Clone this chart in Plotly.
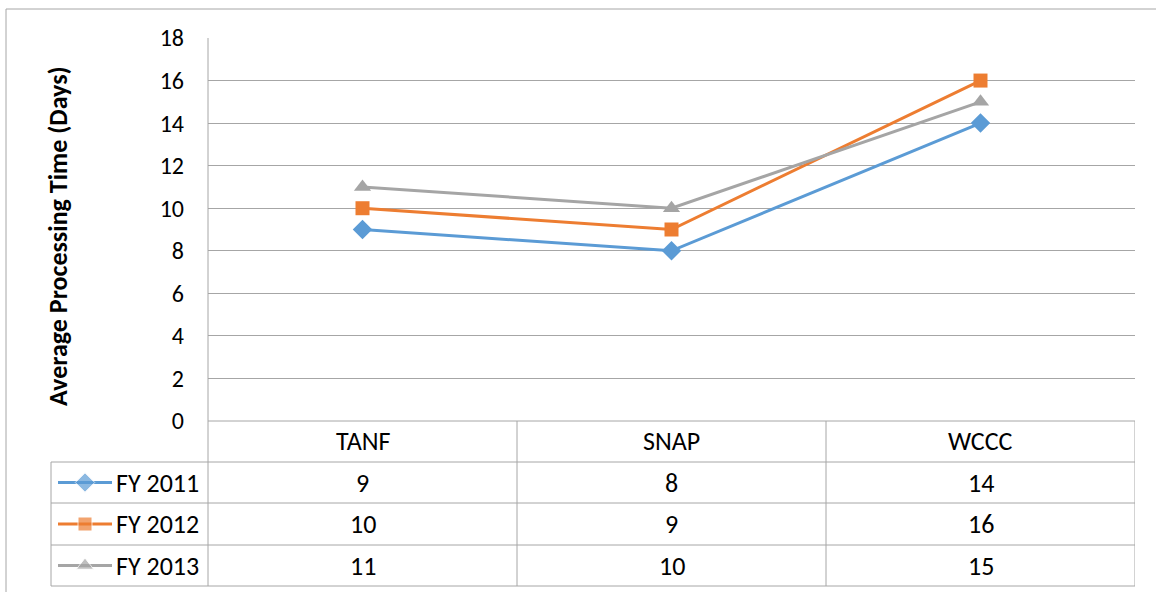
import plotly.graph_objects as go

# Average processing time (days) by program and fiscal year
programs = ["TANF", "SNAP", "WCCC"]
series_names = ["FY 2011", "FY 2012", "FY 2013"]
fy2011 = [9, 8, 14]
fy2012 = [10, 9, 16]
fy2013 = [11, 10, 15]
y_ticks = [0, 2, 4, 6, 8, 10, 12, 14, 16, 18]

series_values = [fy2011, fy2012, fy2013]
colors = ["#5B9BD5", "#ED7D31", "#A5A5A5"]
symbols = ["diamond", "square", "triangle-up"]
marker_sizes = [15, 14, 15]

W, H = 1156, 592
FONT = "Carlito, Calibri, Lato, sans-serif"
GRID = "#A6A6A6"
FS_TABLE = 26
FS_TICK = 24
FS_TITLE = 26


def px(x):
    return x / W


def py(y):
    return 1 - y / H


# pixel layout of the plot area and the data table below it
plot_l, plot_r, plot_t, plot_b = 208, 1135, 38, 421
table_l = 51
row_lines = [421, 462, 503, 545, 586]

fig = go.Figure()

for name, vals, col, sym, ms in zip(series_names, series_values, colors, symbols, marker_sizes):
    fig.add_trace(go.Scatter(
        x=programs, y=vals, name=name, mode="lines+markers",
        line=dict(color=col, width=3),
        marker=dict(symbol=sym, size=ms, color=col),
        xaxis="x", yaxis="y", showlegend=False, hoverinfo="skip",
    ))

# legend keys drawn inside the data table's first column
for i, (col, sym, ms) in enumerate(zip(colors, symbols, marker_sizes)):
    yc = (row_lines[i + 1] + row_lines[i + 2]) / 2
    fig.add_trace(go.Scatter(
        x=[58, 85, 112], y=[yc, yc, yc], mode="lines+markers",
        line=dict(color=col, width=3),
        marker=dict(symbol=sym, size=[0, ms, 0], color=col),
        xaxis="x2", yaxis="y2", showlegend=False, hoverinfo="skip",
    ))

shapes = []
line_style = dict(color=GRID, width=1)

# outer chart border
shapes.append(dict(type="rect", xref="paper", yref="paper",
                   x0=px(6), x1=px(1170), y0=py(600), y1=py(9),
                   line=dict(color="#A6A6A6", width=1)))

# table horizontal rules
shapes.append(dict(type="line", xref="paper", yref="paper",
                   x0=px(plot_l), x1=px(plot_r), y0=py(row_lines[0]), y1=py(row_lines[0]),
                   line=line_style))
for yl in row_lines[1:]:
    shapes.append(dict(type="line", xref="paper", yref="paper",
                       x0=px(table_l), x1=px(plot_r), y0=py(yl), y1=py(yl),
                       line=line_style))

# table vertical rules
shapes.append(dict(type="line", xref="paper", yref="paper",
                   x0=px(table_l), x1=px(table_l), y0=py(row_lines[1]), y1=py(row_lines[-1]),
                   line=line_style))
shapes.append(dict(type="line", xref="paper", yref="paper",
                   x0=px(plot_l), x1=px(plot_l), y0=py(plot_t), y1=py(row_lines[-1]),
                   line=line_style))
for xb in [0.5, 1.5, 2.5]:
    shapes.append(dict(type="line", xref="x", yref="paper",
                       x0=xb, x1=xb, y0=py(row_lines[0]), y1=py(row_lines[-1]),
                       line=line_style))

annotations = []
text_font = dict(family=FONT, size=FS_TABLE, color="#000000")

# header row with category names
for i, p in enumerate(programs):
    annotations.append(dict(x=i, y=py((row_lines[0] + row_lines[1]) / 2), xref="x", yref="paper",
                            text=p, showarrow=False, font=text_font,
                            xanchor="center", yanchor="middle"))

# data rows
for r, (name, vals) in enumerate(zip(series_names, series_values)):
    yc = py((row_lines[r + 1] + row_lines[r + 2]) / 2)
    annotations.append(dict(x=px(114), y=yc, xref="paper", yref="paper",
                            text=name, showarrow=False, font=text_font,
                            xanchor="left", yanchor="middle"))
    for i, v in enumerate(vals):
        annotations.append(dict(x=i, y=yc, xref="x", yref="paper",
                                text=str(v), showarrow=False, font=text_font,
                                xanchor="center", yanchor="middle"))

# y-axis title
annotations.append(dict(x=px(58), y=py(236), xref="paper", yref="paper",
                        text="<b>Average Processing Time (Days)</b>", textangle=-90,
                        showarrow=False, font=dict(family=FONT, size=FS_TITLE, color="#000000"),
                        xanchor="center", yanchor="middle"))

fig.update_layout(
    width=W, height=H,
    margin=dict(l=0, r=0, t=0, b=0, autoexpand=False),
    paper_bgcolor="white", plot_bgcolor="white",
    xaxis=dict(domain=[px(plot_l), px(plot_r)], type="category",
               range=[-0.5, 2.5], showgrid=False, showticklabels=False,
               zeroline=False, showline=False, fixedrange=True, automargin=False),
    yaxis=dict(domain=[py(plot_b), py(plot_t)], range=[0, 18],
               tickvals=y_ticks, ticktext=[str(t) for t in y_ticks],
               showgrid=True, gridcolor=GRID, gridwidth=1,
               zeroline=False, showline=False, ticks="",
               ticklabelstandoff=23, automargin=False,
               tickfont=dict(family=FONT, size=FS_TICK, color="#000000")),
    xaxis2=dict(domain=[px(table_l), px(plot_l)], range=[table_l, plot_l],
                visible=False, anchor="y2", automargin=False),
    yaxis2=dict(domain=[py(row_lines[-1]), py(row_lines[1])],
                range=[row_lines[-1], row_lines[1]], visible=False, anchor="x2",
                automargin=False),
    shapes=shapes,
    annotations=annotations,
)

fig.write_html("out.html")
